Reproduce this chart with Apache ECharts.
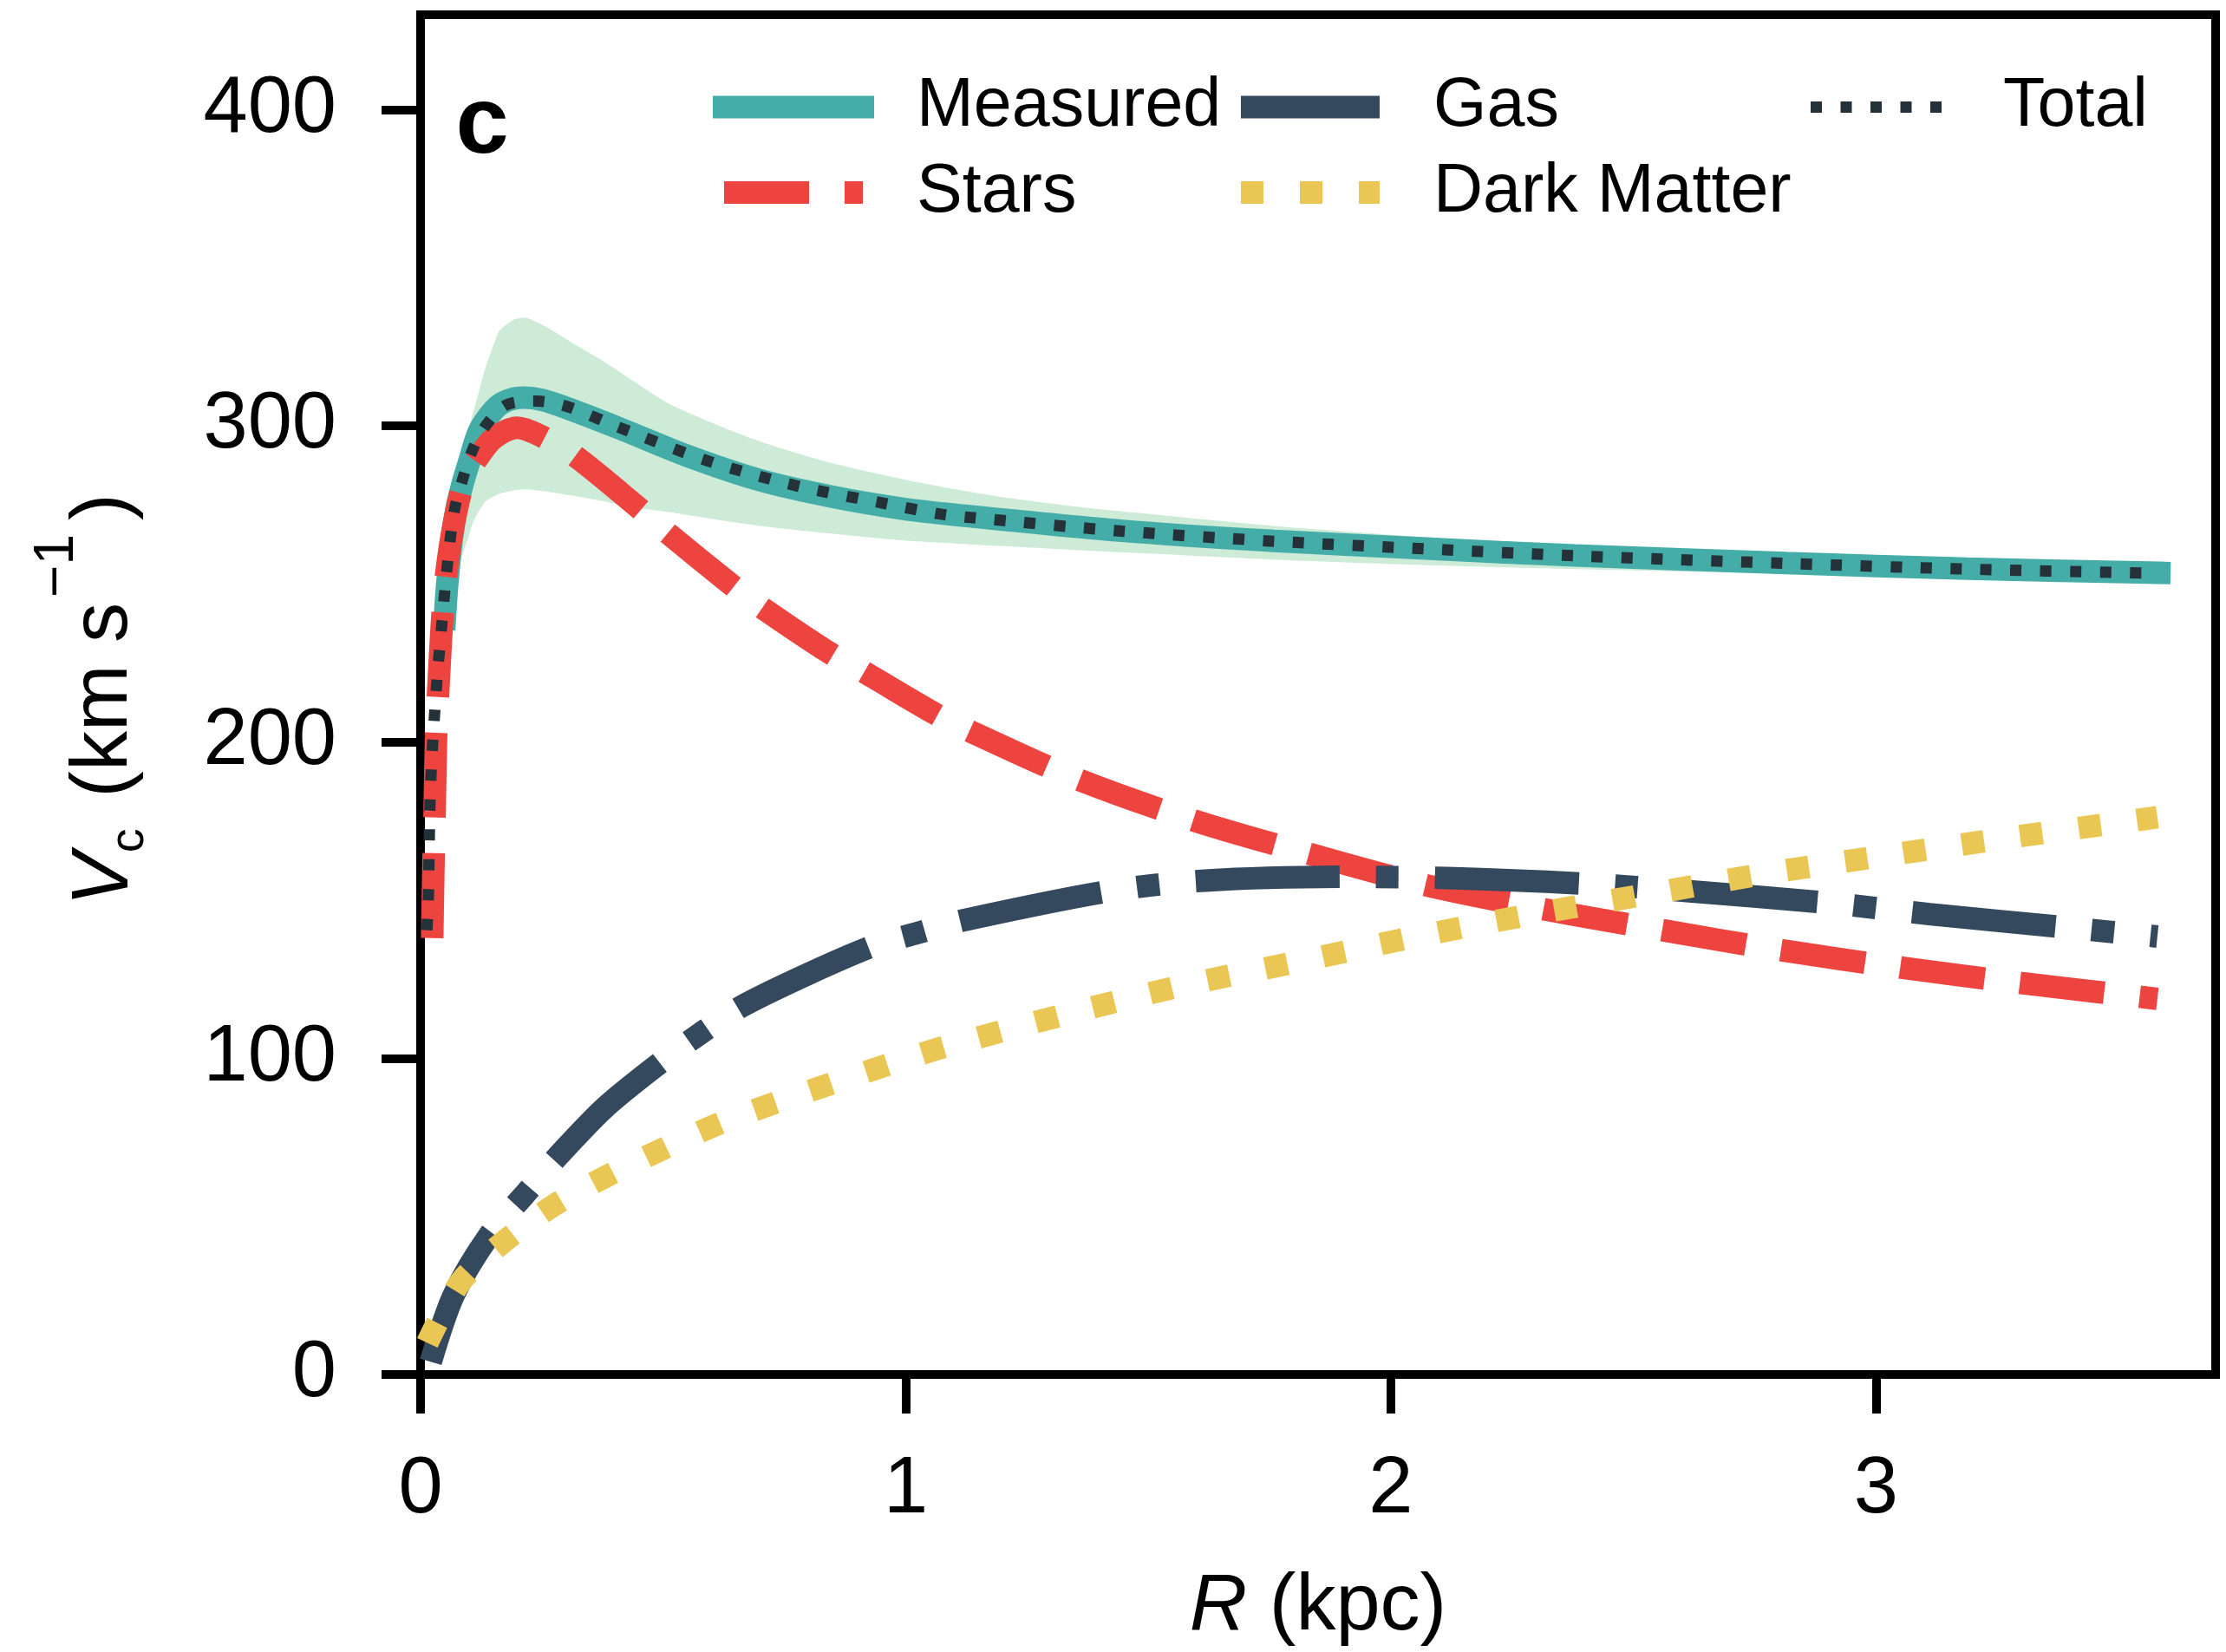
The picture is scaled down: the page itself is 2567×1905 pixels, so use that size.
<!DOCTYPE html>
<html>
<head>
<meta charset="utf-8">
<title>Rotation curve</title>
<script src="https://cdn.jsdelivr.net/npm/echarts@6.0.0/dist/echarts.min.js"></script>
<style>
  html, body { margin: 0; padding: 0; background: #fff; }
  #chart { width: 2567px; height: 1905px; }
</style>
</head>
<body>
<div id="chart"></div>
<script>
// R (kpc) / V_c (km s^-1)
const measuredR = [0.05, 0.055, 0.065, 0.075, 0.089, 0.1, 0.119, 0.14, 0.163, 0.19, 0.214, 0.25, 0.3, 0.41, 0.555, 0.7, 0.848, 0.993, 1.1, 1.446, 1.759, 2.071, 2.379, 2.814, 3.188, 3.584];
const measuredV = [239, 250, 265, 274.5, 283, 288.5, 297.8, 303, 306.7, 308.5, 308.9, 308.2, 305.7, 299.2, 290.2, 282.8, 277.6, 273.8, 271.9, 266.8, 263.6, 261.2, 259, 256.6, 254.8, 253.5];

// 1-sigma band round the measured curve
const bandR = [0.05, 0.065, 0.08, 0.098, 0.107, 0.118, 0.135, 0.162, 0.19, 0.217, 0.26, 0.31, 0.372, 0.44, 0.509, 0.554, 0.646, 0.73, 0.828, 0.92, 1.01, 1.1, 1.193, 1.29, 1.375, 1.529, 1.783, 2.1, 2.433, 2.9, 3.2, 3.584];
const bandLow = [232, 245, 256, 264.5, 269, 272.5, 276.3, 278.5, 279.5, 279.9, 279.2, 278, 276.3, 274.2, 272.8, 271.7, 269.5, 267.8, 266.2, 264.8, 263.6, 262.8, 262, 261.2, 260.5, 259.4, 257.5, 255.8, 254.5, 253, 252.3, 251.5];
const bandUp = [246, 268, 287, 298, 303.5, 309.5, 319, 330, 333.5, 334.2, 331.2, 326.5, 320.9, 314, 307.2, 304, 298.1, 293.5, 289, 285.6, 282.6, 280, 277.6, 275.6, 274, 271.7, 268, 264.5, 261.5, 258.8, 257.3, 255.8];

const starsR = [0.024, 0.027, 0.029, 0.032, 0.036, 0.045, 0.052, 0.065, 0.083, 0.1, 0.116, 0.15, 0.199, 0.247, 0.318, 0.446, 0.506, 0.641, 0.699, 0.845, 0.911, 1.06, 1.13, 1.35, 1.59, 1.83, 2.07, 2.32, 2.56, 2.8, 3.05, 3.3, 3.58];
const starsV = [138, 165, 178, 202, 215, 240, 252, 266, 279, 285.5, 289.5, 296, 299.4, 296.9, 290.5, 274.5, 266.5, 249.7, 243, 228, 222.4, 209, 203.6, 188.5, 175.4, 164.7, 154.8, 147, 140.5, 134.3, 128.7, 123.8, 118.8];

const gasR = [0.021, 0.068, 0.141, 0.214, 0.28, 0.382, 0.499, 0.579, 0.663, 0.798, 0.933, 1.031, 1.121, 1.421, 1.617, 1.917, 2.116, 2.4, 2.61, 2.91, 3.11, 3.41, 3.58];
const gasV = [4, 25, 43.9, 56.8, 68.5, 84.7, 99.2, 108.1, 116.5, 126.6, 135.5, 139.9, 143.7, 152.9, 156.2, 157.4, 157, 155.2, 152.9, 149, 145.6, 141.1, 138.5];

const darkR = [0.014, 0.083, 0.178, 0.28, 0.386, 0.499, 0.612, 0.729, 0.845, 0.966, 1.083, 1.322, 1.566, 1.81, 2.054, 2.298, 2.542, 2.788, 3.034, 3.28, 3.527, 3.58];
const darkV = [10, 29.4, 42.8, 54, 62.9, 71.3, 79.1, 85.8, 91.9, 98.1, 103.7, 113.6, 122.8, 130.6, 138.5, 145.7, 152.2, 158.8, 164.4, 169.9, 175.1, 176.2];

const totalR = [0.013, 0.016, 0.017, 0.018, 0.019, 0.021, 0.024, 0.028, 0.035, 0.043, 0.052, 0.061, 0.072, 0.086, 0.105, 0.134, 0.178, 0.24, 0.302, 0.411, 0.594, 0.776, 0.958, 1.075, 1.134, 1.446, 1.759, 2.071, 2.379, 2.814, 3.188, 3.563];
const totalV = [140.5, 150, 159.5, 169, 178.3, 187.8, 197.3, 206.8, 222, 235.8, 251, 264.2, 275, 282.7, 291.6, 300, 306.7, 307.8, 306.1, 299.4, 288.8, 281, 275.4, 272, 271, 266.7, 263.5, 261.1, 258.9, 256.5, 254.7, 253.4];

const xTicks = [0, 1, 2, 3];
const yTicks = [0, 100, 200, 300, 400];

const FONT = '"Liberation Sans", Arial, Helvetica, sans-serif';
const TEAL = '#45ADA8';
const RED = '#EE4440';
const GAS = '#34495E';
const DARK = '#EAC754';
const TOTAL = '#243139';
const BAND = '#CDEBD7';

const styles = {
  Measured: { color: TEAL, width: 26, type: 'solid', cap: 'square' },
  Stars: { color: RED, width: 26, type: [98, 41] },
  Gas: { color: GAS, width: 26, type: [166, 42, 26, 42] },
  'Dark Matter': { color: DARK, width: 26, type: [26, 42] },
  Total: { color: TOTAL, width: 13, type: [13, 21.5] }
};

function pairs(xs, ys) {
  return xs.map((x, i) => [x, ys[i]]);
}

function curve(name, xs, ys) {
  return {
    name: name,
    type: 'line',
    data: pairs(xs, ys),
    symbol: 'none',
    smooth: 0.3,
    lineStyle: styles[name],
    itemStyle: { color: styles[name].color },
    emphasis: { disabled: true },
    z: 3
  };
}

function legendItem(name) {
  return { name: name, lineStyle: styles[name], itemStyle: { opacity: 0 } };
}

function legendBlock(names, left) {
  return {
    data: names.map(legendItem),
    orient: 'vertical',
    left: left,
    top: 84,
    padding: 0,
    itemWidth: 160,
    itemHeight: 80,
    itemGap: 19.5,
    selectedMode: false,
    textStyle: {
      fontFamily: FONT,
      fontSize: 79,
      color: '#000',
      padding: [0, 0, 0, 57]
    }
  };
}

// shaded band: one polygon, upper edge out and lower edge back
function renderBand(params, api) {
  if (params.dataIndex !== 0) return;
  const upper = bandR.map((r, i) => api.coord([r, bandUp[i]]));
  const lower = bandR.map((r, i) => api.coord([r, bandLow[i]])).reverse();
  return {
    type: 'polygon',
    shape: { points: upper.concat(lower), smooth: 0.15 },
    style: { fill: BAND }
  };
}

const chart = echarts.init(document.getElementById('chart'), null, { renderer: 'canvas' });

chart.setOption({
  animation: false,
  backgroundColor: '#fff',
  grid: {
    left: 485,
    right: 12,
    top: 17,
    bottom: 315,
    show: true,
    borderColor: '#000',
    borderWidth: 10
  },
  legend: [
    legendBlock(['Measured', 'Stars'], 822),
    legendBlock(['Gas', 'Dark Matter'], 1418),
    legendBlock(['Total'], 2081.5)
  ],
  graphic: [{
    type: 'text',
    x: 556,
    y: 146,
    style: {
      text: 'c',
      fontFamily: FONT,
      fontWeight: 'bold',
      fontSize: 110,
      fill: '#000',
      align: 'center',
      verticalAlign: 'middle'
    }
  }],
  xAxis: {
    type: 'value',
    min: 0,
    max: 3.7,
    interval: 1,
    name: '{it|R} (kpc)',
    nameLocation: 'middle',
    nameGap: 223,
    nameTextStyle: {
      fontFamily: FONT,
      fontSize: 92,
      lineHeight: 92,
      color: '#000',
      rich: { it: { fontFamily: FONT, fontStyle: 'italic', fontSize: 92, lineHeight: 92 } }
    },
    axisLine: { show: true, onZero: false, lineStyle: { color: '#000', width: 10 } },
    axisTick: { show: true, length: 45, customValues: xTicks, lineStyle: { color: '#000', width: 10 } },
    axisLabel: {
      customValues: xTicks,
      margin: 88,
      fontFamily: FONT,
      fontSize: 92,
      lineHeight: 92,
      color: '#000'
    },
    splitLine: { show: false }
  },
  yAxis: {
    type: 'value',
    min: 0,
    max: 430,
    interval: 100,
    name: '{it|V}{sub|c} (km s{sup|\u22121}{cl|)}',
    nameLocation: 'middle',
    nameGap: 277,
    nameTextStyle: {
      fontFamily: FONT,
      fontSize: 92,
      lineHeight: 174,
      color: '#000',
      rich: {
        it: { fontFamily: FONT, fontStyle: 'italic', fontSize: 92, lineHeight: 174 },
        sub: { fontFamily: FONT, fontSize: 56, lineHeight: 56, verticalAlign: 'bottom', padding: [0, 10, 30, 0] },
        sup: { fontFamily: FONT, fontSize: 64, lineHeight: 64, verticalAlign: 'top', padding: [0, 16, 0, 6] },
        cl: { fontFamily: FONT, fontSize: 92, lineHeight: 174, padding: [0, 12, 0, 0] }
      }
    },
    axisLine: { show: true, onZero: false, lineStyle: { color: '#000', width: 10 } },
    axisTick: { show: true, length: 45, customValues: yTicks, lineStyle: { color: '#000', width: 10 } },
    axisLabel: {
      customValues: yTicks,
      margin: 97,
      fontFamily: FONT,
      fontSize: 92,
      color: '#000'
    },
    splitLine: { show: false }
  },
  series: [
    {
      type: 'custom',
      data: pairs(bandR, bandUp),
      encode: { x: 0, y: 1 },
      renderItem: renderBand,
      silent: true,
      z: 1
    },
    curve('Measured', measuredR, measuredV),
    curve('Stars', starsR, starsV),
    curve('Gas', gasR, gasV),
    curve('Dark Matter', darkR, darkV),
    curve('Total', totalR, totalV)
  ]
});
</script>
</body>
</html>
